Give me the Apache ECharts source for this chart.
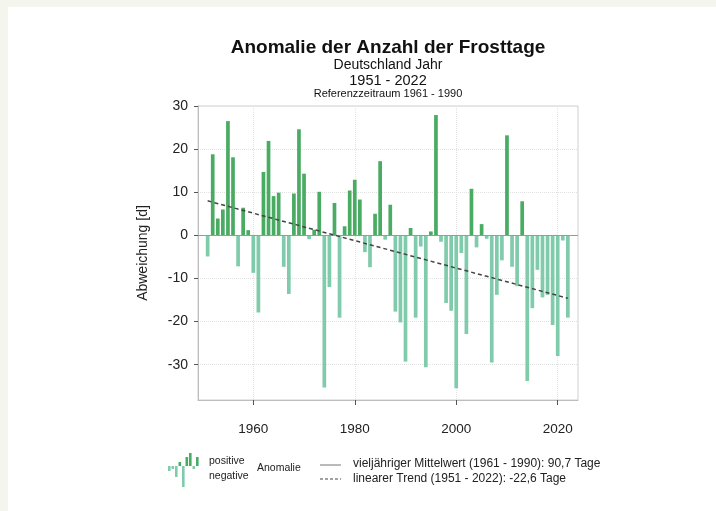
<!DOCTYPE html>
<html>
<head>
<meta charset="utf-8">
<script src="https://cdn.jsdelivr.net/npm/echarts@6/dist/echarts.min.js"></script>
<style>
  html, body { margin: 0; padding: 0; background: #f4f6ee; }
  #frame { position: absolute; left: 8px; top: 7px; right: 0; bottom: 0; background: #fff; }
  #chart { position: absolute; left: 0; top: 0; width: 716px; height: 511px; }
</style>
</head>
<body>
<div id="frame"></div>
<div id="chart"></div>
<script>
// Anomalie der Frosttage, Deutschland, 1951 - 2022 (Referenz 1961 - 1990)
const years = []
for (let y = 1951; y <= 2022; y++) years.push(y)

const anomalies = [
  -4.9, 18.8, 3.9, 6.0, 26.5, 18.1, -7.2, 6.4, 1.2, -8.7,      // 1951-1960
  -17.9, 14.7, 21.9, 9.1, 9.9, -7.3, -13.6, 9.7, 24.6, 14.3,   // 1961-1970
  -0.9, 1.3, 10.1, -35.3, -12.0, 7.5, -19.1, 2.1, 10.4, 12.9,  // 1971-1980
  8.3, -3.9, -7.4, 5.0, 17.2, -1.0, 7.1, -17.7, -20.2, -29.3,  // 1981-1990
  1.7, -19.1, -2.6, -30.6, 0.9, 27.9, -1.5, -15.7, -17.5, -35.5, // 1991-2000
  -4.1, -22.9, 10.8, -2.8, 2.6, -0.8, -29.5, -13.8, -5.8, 23.2, // 2001-2010
  -7.3, -11.8, 7.9, -33.8, -16.9, -8.0, -14.4, -13.8, -20.8, -28.0, // 2011-2020
  -1.2, -19.1                                                  // 2021-2022
]

const trendYears = [1951, 2022]
const trendValues = [8.0, -14.6]

const xTicks = [1960, 1980, 2000, 2020]
const yTicks = [-30, -20, -10, 0, 10, 20, 30]

const posColor = '#4aab63'
const negColor = '#80cbab'
const font = 'Liberation Sans, Arial, sans-serif'

const chart = echarts.init(document.getElementById('chart'))

const barData = years.map((y, i) => ({
  value: [y, anomalies[i]],
  itemStyle: { color: anomalies[i] >= 0 ? posColor : negColor }
}))

// small legend icon (bars up and down)
const iconBars = [
  [168, 0, -5], [171.5, 0, -3], [175, 0, -11], [178.5, 4, 0],
  [182, 0, -21], [185.5, 9, 0], [189, 13, 0], [192.5, 0, -3], [196, 9, 0]
]
const iconGraphics = iconBars.map(([x, up, down]) => ({
  type: 'rect',
  shape: { x: x, y: up > 0 ? 466 - up : 466, width: 2.6, height: up > 0 ? up : -down },
  style: { fill: up > 0 ? posColor : negColor }
}))

const titleText = (text, y, size, bold) => ({
  type: 'text', x: 388, y: y,
  style: {
    text: text, fill: '#111', align: 'center', verticalAlign: 'middle',
    font: (bold ? 'bold ' : '') + size + 'px ' + font
  }
})

const option = {
  animation: false,
  textStyle: { fontFamily: font },
  grid: {
    left: 198, top: 106, right: 138, bottom: 111,
    show: true, borderColor: '#cfcfcf', borderWidth: 1, backgroundColor: 'transparent'
  },
  xAxis: {
    type: 'value', min: 1949.1, max: 2024,
    axisLine: { show: true, onZero: false, lineStyle: { color: '#bdbdbd' } },
    axisTick: { show: true, customValues: xTicks, length: 5, lineStyle: { color: '#555' } },
    axisLabel: { customValues: xTicks, margin: 22, fontSize: 13.5, color: '#222', fontFamily: font,
      formatter: v => String(v) },
    splitLine: { show: true, lineStyle: { color: '#e2e2e2', type: 'dotted' } }
  },
  yAxis: {
    type: 'value', min: -38.2, max: 30,
    name: 'Abweichung [d]', nameLocation: 'middle', nameGap: 48, nameRotate: 90,
    nameTextStyle: { fontSize: 14, color: '#222', fontFamily: font },
    axisLine: { show: true, lineStyle: { color: '#bdbdbd' } },
    axisTick: { show: true, customValues: yTicks, length: 4, lineStyle: { color: '#555' } },
    axisLabel: { customValues: yTicks, margin: 10, fontSize: 14, color: '#222', fontFamily: font },
    splitLine: { show: true, lineStyle: { color: '#e2e2e2', type: 'dotted' } }
  },
  series: [
    {
      name: 'Anomalie',
      type: 'bar',
      data: barData,
      barWidth: 3.7,
      itemStyle: { borderWidth: 0 },
      markLine: {
        silent: true, symbol: 'none', label: { show: false },
        lineStyle: { color: '#9a9a9a', type: 'solid', width: 1 },
        data: [{ yAxis: 0 }]
      }
    },
    {
      name: 'linearer Trend',
      type: 'line',
      data: trendYears.map((y, i) => [y, trendValues[i]]),
      symbol: 'none',
      lineStyle: { color: '#444', width: 1.5, type: [4, 3] },
      z: 5
    }
  ],
  graphic: [
    titleText('Anomalie der Anzahl der Frosttage', 48, 19, true),
    titleText('Deutschland Jahr', 65, 14, false),
    titleText('1951 - 2022', 80.5, 14.5, false),
    titleText('Referenzzeitraum 1961 - 1990', 93.5, 11, false),
    ...iconGraphics,
    { type: 'text', left: 209, top: 456, style: { text: 'positive', fill: '#222', font: '10.5px ' + font } },
    { type: 'text', left: 209, top: 471, style: { text: 'negative', fill: '#222', font: '10.5px ' + font } },
    { type: 'text', left: 257, top: 463, style: { text: 'Anomalie', fill: '#222', font: '10.5px ' + font } },
    { type: 'line', shape: { x1: 320, y1: 465, x2: 341, y2: 465 }, style: { stroke: '#777', lineWidth: 1 } },
    { type: 'line', shape: { x1: 320, y1: 479, x2: 341, y2: 479 }, style: { stroke: '#444', lineWidth: 1, lineDash: [3, 2] } },
    { type: 'text', left: 353, top: 458, style: { text: 'vieljähriger Mittelwert (1961 - 1990): 90,7 Tage', fill: '#222', font: '12px ' + font } },
    { type: 'text', left: 353, top: 473, style: { text: 'linearer Trend (1951 - 2022): -22,6 Tage', fill: '#222', font: '12px ' + font } }
  ]
}

chart.setOption(option)
</script>
</body>
</html>
